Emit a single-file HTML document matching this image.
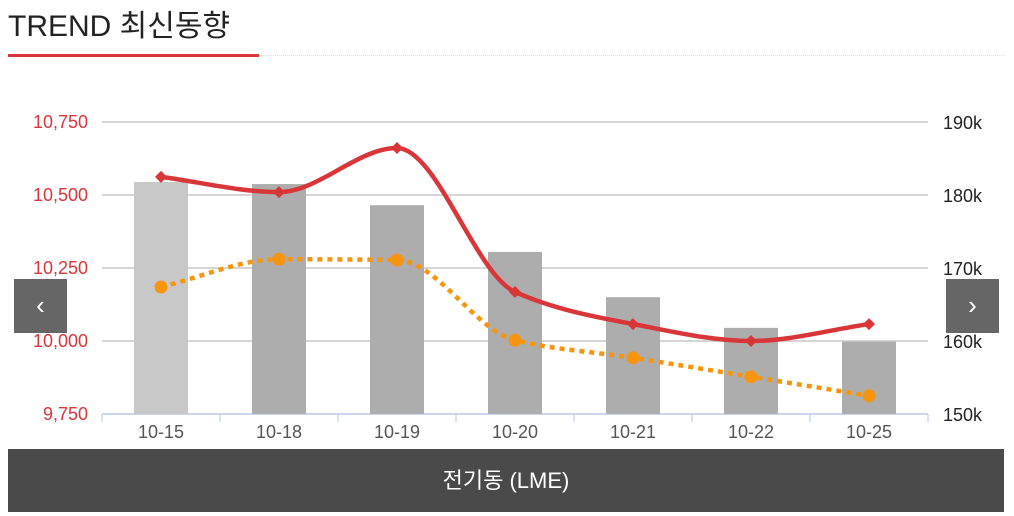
<!DOCTYPE html>
<html><head><meta charset="utf-8"><style>
body{margin:0;width:1014px;height:516px;background:#fff;overflow:hidden;font-family:"Liberation Sans","Noto Sans CJK KR",sans-serif;position:relative}
.title{position:absolute;left:8px;top:1px;font-size:30px;color:#222}
.redline{position:absolute;left:8px;top:54px;width:251px;height:3px;background:#d9363a}
.dotline{position:absolute;left:259px;top:55px;width:745px;border-top:1px dotted #ddd}
.nav{position:absolute;top:279px;width:53px;height:54px;background:#666;color:#fff;font-size:26px;text-align:center;line-height:52px}
.footer{position:absolute;left:8px;top:449px;width:996px;height:63px;background:#4a4a4a;color:#fff;font-size:22px;text-align:center;line-height:63px}
svg{position:absolute;left:0;top:0}
</style></head><body>
<div class="title">TREND 최신동향</div>
<div class="redline"></div>
<div class="dotline"></div>
<svg id="chart" width="1014" height="516"></svg>
<div class="nav" style="left:14px">&#8249;</div>
<div class="nav" style="left:946px">&#8250;</div>
<div class="footer">전기동 (LME)</div>
<script>
const categories=["10-15","10-18","10-19","10-20","10-21","10-22","10-25"];
const barValues=[181.8,181.5,178.6,172.2,166.0,161.8,159.9];
const redValues=[10562,10510,10661,10168,10058,10000,10058];
const orangeValues=[167.4,171.2,171.1,160.1,157.7,155.1,152.5];
const leftTicks=[9750,10000,10250,10500,10750];
const rightTicks=[150,160,170,180,190];
const X0=102,X1=928,Y0=414,Y1=122;
const bw=(X1-X0)/categories.length;
const xC=i=>X0+bw*(i+0.5);
const yL=v=>Y0-(v-9750)/1000*(Y0-Y1);
const yR=v=>Y0-(v-150)/40*(Y0-Y1);
const svg=document.getElementById('chart');
const NS="http://www.w3.org/2000/svg";
function mk(t,a,p){const e=document.createElementNS(NS,t);for(const k in a)e.setAttribute(k,a[k]);(p||svg).appendChild(e);return e;}
leftTicks.forEach((v,i)=>{
 const g=mk('line',{x1:X0,x2:X1,y1:yL(v),y2:yL(v),stroke:i==0?'#ccd6eb':'#c8c8c8','stroke-width':i==0?2:1.5});
 
 const t=mk('text',{x:88,y:yL(v)+6,'text-anchor':'end','font-size':18,fill:'#d9363a'});t.textContent=v.toLocaleString('en-US');
 
});
rightTicks.forEach(v=>{
 const t=mk('text',{x:943,y:yR(v)+7,'font-size':18,fill:'#222'});t.textContent=v+'k';
 
});
categories.forEach((c,i)=>{
 const b=mk('rect',{x:xC(i)-27,y:yR(barValues[i]),width:54,height:Y0-yR(barValues[i]),fill:i==0?'#c8c8c8':'#adadad'});
 
 const t=mk('text',{x:xC(i),y:438,'text-anchor':'middle','font-size':18,fill:'#555'});t.textContent=c;
 
});
for(let i=0;i<=categories.length;i++){const tk=mk('line',{x1:X0+bw*i,x2:X0+bw*i,y1:Y0,y2:Y0+8,stroke:'#ccd6eb','stroke-width':1.5});}
function smooth(pts){
 const n=pts.length,d=[],m=[];
 for(let i=0;i<n-1;i++)d.push((pts[i+1][1]-pts[i][1])/(pts[i+1][0]-pts[i][0]));
 m[0]=d[0];m[n-1]=d[n-2];
 for(let i=1;i<n-1;i++)m[i]=d[i-1]*d[i]<=0?0:2*d[i-1]*d[i]/(d[i-1]+d[i]);
 let s='M'+pts[0][0]+','+pts[0][1];
 for(let i=0;i<n-1;i++){const h=(pts[i+1][0]-pts[i][0])/3;
  s+=` C${pts[i][0]+h},${pts[i][1]+m[i]*h} ${pts[i+1][0]-h},${pts[i+1][1]-m[i+1]*h} ${pts[i+1][0]},${pts[i+1][1]}`;}
 return s;
}
const op=orangeValues.map((v,i)=>[xC(i),yR(v)]);
const ol=mk('path',{d:smooth(op),fill:'none',stroke:'#f7950f','stroke-width':4.5,'stroke-dasharray':'5,5'});

op.forEach(p=>{const c=mk('circle',{cx:p[0],cy:p[1],r:6.5,fill:'#f7950f'});});
const rp=redValues.map((v,i)=>[xC(i),yL(v)]);
const rl=mk('path',{d:smooth(rp),fill:'none',stroke:'#d9363a','stroke-width':4.5});

rp.forEach(p=>{const c=mk('path',{d:`M${p[0]},${p[1]-6} L${p[0]+6},${p[1]} L${p[0]},${p[1]+6} L${p[0]-6},${p[1]} Z`,fill:'#d9363a'});});
</script>
</body></html>
